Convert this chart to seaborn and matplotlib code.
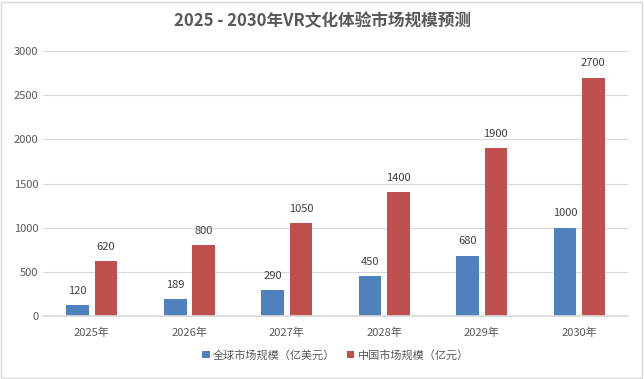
import matplotlib
matplotlib.use("Agg")
import matplotlib.pyplot as plt
import seaborn as sns
import pandas as pd
from matplotlib.patches import Rectangle

# Data
years = ["2025年", "2026年", "2027年", "2028年", "2029年", "2030年"]
global_size = [120, 189, 290, 450, 680, 1000]
china_size = [620, 800, 1050, 1400, 1900, 2700]
series_names = ["全球市场规模（亿美元）", "中国市场规模（亿元）"]
colors = ["#4F81BD", "#C0504D"]

df = pd.DataFrame({
    "year": years * 2,
    "value": global_size + china_size,
    "series": [series_names[0]] * len(years) + [series_names[1]] * len(years),
})

sns.set_theme(style="white")
plt.rcParams["font.family"] = ["Noto Sans CJK SC", "DejaVu Sans"]

fig = plt.figure(figsize=(6.44, 3.79), dpi=100)
ax = fig.add_axes([0.067, 0.166, 0.908, 0.699])

sns.barplot(data=df, x="year", y="value", hue="series", palette=colors,
            width=0.58, gap=0.2, ax=ax, legend=True, saturation=1, linewidth=0)

ax.set_ylim(0, 3000)
ax.set_yticks(range(0, 3001, 500))
ax.set_xlabel("")
ax.set_ylabel("")
ax.grid(axis="y", color="#D9D9D9", linewidth=0.8)
ax.set_axisbelow(True)
for s in ["top", "right", "left"]:
    ax.spines[s].set_visible(False)
ax.spines["bottom"].set_color("#D9D9D9")
ax.tick_params(axis="both", length=0, labelsize=8, colors="#595959")
ax.tick_params(axis="x", pad=8)

for cont in ax.containers:
    ax.bar_label(cont, fmt="%d", padding=7, fontsize=8, color="#404040")

handles, labels = ax.get_legend_handles_labels()
ax.legend(handles, labels, loc="center", bbox_to_anchor=(0.5, -0.147),
          ncol=2, frameon=False, fontsize=8, handlelength=0.7, handleheight=0.7,
          handletextpad=0.3, columnspacing=1.0, labelcolor="#595959")

fig.text(0.5, 0.945, "2025 - 2030年VR文化体验市场规模预测", ha="center", va="center",
         fontsize=12, fontweight="bold", color="#595959")

fig.patches.append(Rectangle((0.002, 0.003), 0.995, 0.993, transform=fig.transFigure,
                             fill=False, edgecolor="#D9D9D9", linewidth=1))

fig.savefig("out.png", dpi=100, facecolor="white")
